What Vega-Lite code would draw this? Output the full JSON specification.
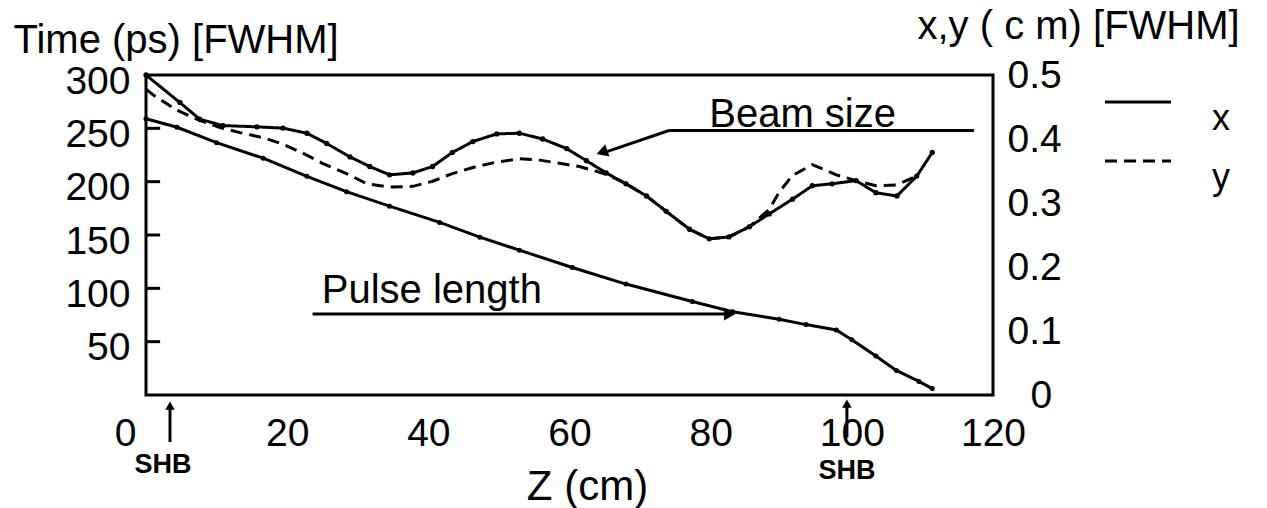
{
  "$schema": "https://vega.github.io/schema/vega-lite/v6.json",
  "autosize": {"type": "none"},
  "padding": {"left": 146, "top": 75, "right": 274, "bottom": 113},
  "width": 847,
  "height": 320,
  "background": "white",
  "config": {
    "font": "Liberation Sans",
    "view": {"stroke": "black", "strokeWidth": 3},
    "axis": {
      "domain": false,
      "grid": false,
      "labelColor": "black",
      "titleColor": "black",
      "labelFont": "Liberation Sans",
      "titleFont": "Liberation Sans",
      "titleFontWeight": "normal",
      "labelFontSize": 39,
      "titleFontSize": 40,
      "tickColor": "black",
      "labelOverlap": false
    }
  },
  "datasets": {
    "pulse": [
      {"z": 0, "t": 259}, {"z": 4.4, "t": 251}, {"z": 10, "t": 236.6}, {"z": 16.6, "t": 222},
      {"z": 22.8, "t": 205}, {"z": 28.4, "t": 190.6}, {"z": 34.5, "t": 177}, {"z": 41.6, "t": 161.8},
      {"z": 47.3, "t": 148}, {"z": 52.9, "t": 135.8}, {"z": 60.4, "t": 119.5}, {"z": 68, "t": 104},
      {"z": 77.4, "t": 87.7}, {"z": 83.1, "t": 78}, {"z": 89.7, "t": 71}, {"z": 93.5, "t": 66},
      {"z": 97.8, "t": 61}, {"z": 100, "t": 51.7}, {"z": 103.4, "t": 36.6}, {"z": 106.3, "t": 23},
      {"z": 109.5, "t": 12.7}, {"z": 111.4, "t": 6}
    ],
    "beam": [
      {"z": 0, "size": 0.5, "dim": "x"}, {"z": 4.8, "size": 0.457, "dim": "x"}, {"z": 7.6, "size": 0.431, "dim": "x"},
      {"z": 10.9, "size": 0.421, "dim": "x"}, {"z": 15.7, "size": 0.419, "dim": "x"}, {"z": 19.4, "size": 0.417, "dim": "x"},
      {"z": 22.8, "size": 0.409, "dim": "x"}, {"z": 25.6, "size": 0.393, "dim": "x"}, {"z": 28.9, "size": 0.372, "dim": "x"},
      {"z": 31.7, "size": 0.357, "dim": "x"}, {"z": 34.5, "size": 0.344, "dim": "x"}, {"z": 37.8, "size": 0.347, "dim": "x"},
      {"z": 40.6, "size": 0.357, "dim": "x"}, {"z": 43.4, "size": 0.379, "dim": "x"}, {"z": 46.3, "size": 0.396, "dim": "x"},
      {"z": 49.7, "size": 0.408, "dim": "x"}, {"z": 52.9, "size": 0.409, "dim": "x"}, {"z": 56.2, "size": 0.4, "dim": "x"},
      {"z": 59.6, "size": 0.385, "dim": "x"}, {"z": 62.4, "size": 0.366, "dim": "x"}, {"z": 65.2, "size": 0.347, "dim": "x"},
      {"z": 68, "size": 0.33, "dim": "x"}, {"z": 70.9, "size": 0.311, "dim": "x"}, {"z": 73.7, "size": 0.287, "dim": "x"},
      {"z": 77, "size": 0.259, "dim": "x"}, {"z": 79.8, "size": 0.244, "dim": "x"}, {"z": 82.6, "size": 0.247, "dim": "x"},
      {"z": 85.5, "size": 0.263, "dim": "x"}, {"z": 88.3, "size": 0.283, "dim": "x"}, {"z": 91.6, "size": 0.306, "dim": "x"},
      {"z": 94.4, "size": 0.327, "dim": "x"}, {"z": 97.2, "size": 0.33, "dim": "x"}, {"z": 100.6, "size": 0.335, "dim": "x"},
      {"z": 103.4, "size": 0.316, "dim": "x"}, {"z": 106.4, "size": 0.311, "dim": "x"}, {"z": 109.2, "size": 0.342, "dim": "x"},
      {"z": 111.4, "size": 0.379, "dim": "x"},
      {"z": 0, "size": 0.478, "dim": "y"}, {"z": 1, "size": 0.469, "dim": "y"}, {"z": 4.4, "size": 0.445, "dim": "y"},
      {"z": 7.6, "size": 0.429, "dim": "y"}, {"z": 10.5, "size": 0.418, "dim": "y"}, {"z": 13.3, "size": 0.41, "dim": "y"},
      {"z": 16.6, "size": 0.402, "dim": "y"}, {"z": 19.4, "size": 0.392, "dim": "y"}, {"z": 22.2, "size": 0.378, "dim": "y"},
      {"z": 25, "size": 0.362, "dim": "y"}, {"z": 28.4, "size": 0.346, "dim": "y"}, {"z": 31.3, "size": 0.33, "dim": "y"},
      {"z": 34.5, "size": 0.325, "dim": "y"}, {"z": 37.8, "size": 0.326, "dim": "y"}, {"z": 40.6, "size": 0.334, "dim": "y"},
      {"z": 43.4, "size": 0.346, "dim": "y"}, {"z": 46.8, "size": 0.357, "dim": "y"}, {"z": 49.7, "size": 0.364, "dim": "y"},
      {"z": 52.9, "size": 0.369, "dim": "y"}, {"z": 55.8, "size": 0.367, "dim": "y"}, {"z": 58.6, "size": 0.362, "dim": "y"},
      {"z": 61.4, "size": 0.357, "dim": "y"}, {"z": 65.2, "size": 0.345, "dim": "y"}, {"z": 68, "size": 0.33, "dim": "y"},
      {"z": 70.9, "size": 0.311, "dim": "y"}, {"z": 73.7, "size": 0.287, "dim": "y"}, {"z": 77, "size": 0.259, "dim": "y"},
      {"z": 79.8, "size": 0.244, "dim": "y"}, {"z": 82.6, "size": 0.247, "dim": "y"}, {"z": 85.5, "size": 0.263, "dim": "y"},
      {"z": 88.3, "size": 0.29, "dim": "y"}, {"z": 89.7, "size": 0.317, "dim": "y"}, {"z": 91.6, "size": 0.343, "dim": "y"},
      {"z": 94.4, "size": 0.36, "dim": "y"}, {"z": 97.8, "size": 0.344, "dim": "y"}, {"z": 100.6, "size": 0.335, "dim": "y"},
      {"z": 103.4, "size": 0.327, "dim": "y"}, {"z": 106.3, "size": 0.328, "dim": "y"}, {"z": 109.2, "size": 0.342, "dim": "y"}
    ],
    "rules": [
      {"z": 23.6, "t": 76, "z2": 82.8, "t2": 76},
      {"z": 74.1, "t": 248, "z2": 117.3, "t2": 248},
      {"z": 74.1, "t": 248, "z2": 65.2, "t2": 228},
      {"z": 3.4, "t": -44, "z2": 3.4, "t2": -12},
      {"z": 99.3, "t": -40, "z2": 99.3, "t2": -10},
      {"z": 0, "t": 50, "z2": 2, "t2": 50},
      {"z": 0, "t": 100, "z2": 2, "t2": 100},
      {"z": 0, "t": 150, "z2": 2, "t2": 150},
      {"z": 0, "t": 200, "z2": 2, "t2": 200},
      {"z": 0, "t": 250, "z2": 2, "t2": 250}
    ],
    "headRight": [{"z": 82.7, "t": 76}],
    "headBeam": [{"z": 64.85, "t": 228.2}],
    "headUp": [{"z": 3.4, "t": -10}, {"z": 99.3, "t": -8}],
    "labels": [
      {"label": "Pulse length", "z": 24.9, "t": 86},
      {"label": "Beam size", "z": 79.8, "t": 251}
    ],
    "shb": [
      {"label": "SHB", "z": 2.4, "t": -66},
      {"label": "SHB", "z": 99.3, "t": -71}
    ]
  },
  "layer": [
    {
      "encoding": {
        "x": {
          "field": "z", "type": "quantitative",
          "scale": {"domain": [0, 120], "nice": false, "zero": false},
          "axis": {
            "values": [0, 20, 40, 60, 80, 100, 120],
            "ticks": false,
            "labelPadding": 19,
            "labelFlush": false,
            "labelOffset": {"condition": {"test": "datum.value == 0", "value": -21}, "value": 0},
            "title": "Z (cm)",
            "titleFontSize": 42,
            "titleX": 441,
            "titleY": 104,
            "titleAlign": "center",
            "titleBaseline": "alphabetic"
          }
        },
        "y": {
          "field": "t", "type": "quantitative",
          "scale": {"domain": [0, 300], "nice": false, "zero": false},
          "axis": {
            "values": [0, 50, 100, 150, 200, 250, 300],
            "labelExpr": "datum.value == 0 ? '' : datum.label",
            "ticks": false,
            "labelPadding": 16,
            "labelOffset": 6,
            "title": "Time (ps) [FWHM]",
            "titleAngle": 0,
            "titleAlign": "left",
            "titleBaseline": "alphabetic",
            "titleX": -133,
            "titleY": -23
          }
        }
      },
      "layer": [
        {
          "data": {"name": "pulse"},
          "mark": {"type": "line", "color": "black", "strokeWidth": 3, "point": {"filled": true, "size": 25, "color": "black"}}
        },
        {
          "data": {"name": "rules"},
          "mark": {"type": "rule", "color": "black", "strokeWidth": 3},
          "encoding": {"x2": {"field": "z2"}, "y2": {"field": "t2"}}
        },
        {
          "data": {"name": "headRight"},
          "mark": {"type": "point", "shape": "triangle-right", "filled": true, "color": "black", "opacity": 1, "size": 170}
        },
        {
          "data": {"name": "headBeam"},
          "mark": {"type": "point", "shape": "triangle", "angle": 251, "filled": true, "color": "black", "opacity": 1, "size": 170}
        },
        {
          "data": {"name": "headUp"},
          "mark": {"type": "point", "shape": "triangle-up", "filled": true, "color": "black", "opacity": 1, "size": 90}
        },
        {
          "data": {"name": "labels"},
          "mark": {"type": "text", "align": "left", "baseline": "alphabetic", "fontSize": 40, "color": "black", "font": "Liberation Sans"},
          "encoding": {"text": {"field": "label"}}
        },
        {
          "data": {"name": "shb"},
          "mark": {"type": "text", "align": "center", "baseline": "middle", "fontSize": 27, "fontWeight": "bold", "color": "black", "font": "Liberation Sans"},
          "encoding": {"text": {"field": "label"}}
        }
      ]
    },
    {
      "data": {"name": "beam"},
      "encoding": {
        "x": {
          "field": "z", "type": "quantitative",
          "scale": {"domain": [0, 120], "nice": false, "zero": false},
          "axis": {
            "values": [0, 20, 40, 60, 80, 100, 120],
            "ticks": false,
            "labelPadding": 19,
            "labelFlush": false,
            "labelOffset": {"condition": {"test": "datum.value == 0", "value": -21}, "value": 0},
            "title": "Z (cm)",
            "titleFontSize": 42,
            "titleX": 441,
            "titleY": 104,
            "titleAlign": "center",
            "titleBaseline": "alphabetic"
          }
        },
        "y": {
          "field": "size", "type": "quantitative",
          "scale": {"domain": [0, 0.5], "nice": false, "zero": false},
          "axis": {
            "orient": "right",
            "values": [0, 0.1, 0.2, 0.3, 0.4, 0.5],
            "labelExpr": "datum.value == 0 ? '0' : format(datum.value, '.1f')",
            "ticks": false,
            "labelPadding": {"condition": {"test": "datum.value == 0", "value": 37}, "value": 14},
            "title": "x,y ( c m) [FWHM]",
            "titleAngle": 0,
            "titleAlign": "left",
            "titleBaseline": "alphabetic",
            "titleX": -76,
            "titleY": -37
          }
        }
      },
      "layer": [
        {
          "mark": {"type": "line", "color": "black", "strokeWidth": 3},
          "encoding": {
            "strokeDash": {
              "field": "dim", "type": "nominal",
              "scale": {"domain": ["x", "y"], "range": [[1, 0], [12, 7]]},
              "legend": {
                "orient": "none",
                "legendX": 974,
                "legendY": 9,
                "title": null,
                "symbolType": "M-3,0H3",
                "symbolSize": 484,
                "symbolStrokeWidth": 3,
                "symbolStrokeColor": "black",
                "labelFontSize": 36,
                "labelColor": "black",
                "labelFont": "Liberation Sans",
                "labelBaseline": "top",
                "labelOffset": 56,
                "rowPadding": 6,
                "padding": 0
              }
            }
          }
        },
        {
          "transform": [{"filter": "datum.dim == 'x'"}],
          "mark": {"type": "circle", "color": "black", "opacity": 1, "size": 28}
        }
      ]
    }
  ],
  "resolve": {"scale": {"y": "independent"}}
}
